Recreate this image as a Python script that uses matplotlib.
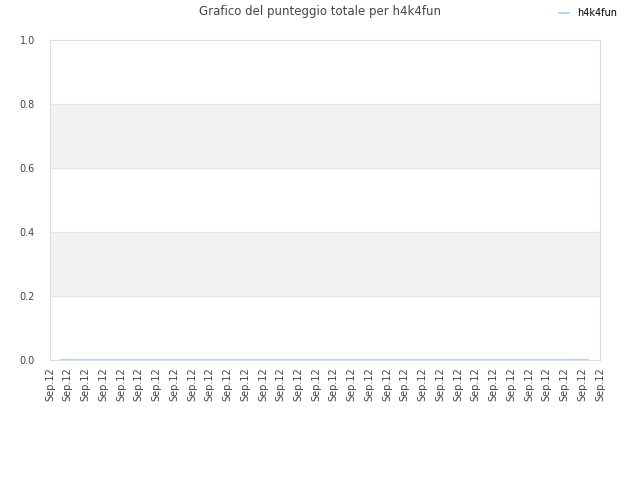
import matplotlib.pyplot as plt

# data
series_name = "h4k4fun"
x_points = [0.62, 30.33]
scores = [0, 0]
tick_labels = ["Sep.12"] * 32

fig = plt.figure(figsize=(6.4, 4.8), dpi=100)
ax = fig.add_axes([50 / 640, 120 / 480, 550 / 640, 320 / 480])

# alternating bands
for lo in (0.2, 0.6):
    ax.axhspan(lo, lo + 0.2, color='#f2f2f2', zorder=0)
for y in (0.2, 0.4, 0.6, 0.8):
    ax.axhline(y, color='#e6e6e6', lw=0.8, zorder=0)

line, = ax.plot(x_points, scores, color='#a6ccf0', lw=1.2, label=series_name, zorder=3)

ax.set_xlim(0, 31)
ax.set_ylim(0, 1.0)
ax.set_xticks(range(len(tick_labels)))
ax.set_xticklabels(tick_labels, rotation=90, fontsize=7, color='#444444')
ax.set_yticks([0, 0.2, 0.4, 0.6, 0.8, 1.0])
ax.set_yticklabels(["0.0", "0.2", "0.4", "0.6", "0.8", "1.0"], fontsize=7, color='#444444')
ax.tick_params(axis='y', length=0, pad=11)
ax.tick_params(axis='x', length=0, pad=5)
for s in ax.spines.values():
    s.set_color('#dddddd')
    s.set_linewidth(0.8)

fig.text(0.5, 0.975, "Grafico del punteggio totale per h4k4fun", ha='center', va='center',
         fontsize=8.5, color='#444444')
fig.legend(handles=[line], loc='center left', bbox_to_anchor=(0.86, 0.973), frameon=False,
           fontsize=7, handlelength=1.0, handletextpad=0.9)

fig.savefig("out.png", dpi=100, facecolor='white')
